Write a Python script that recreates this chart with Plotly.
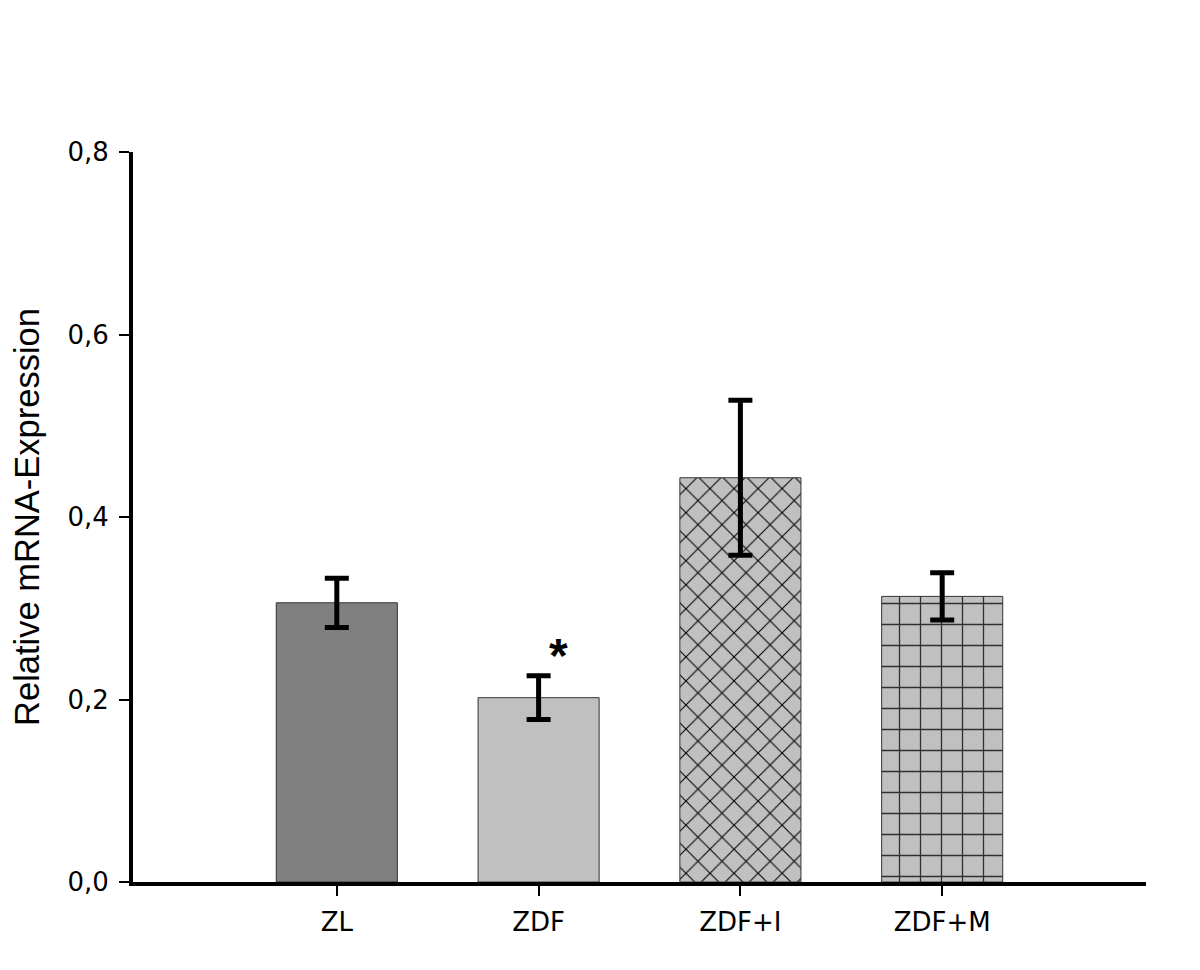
import plotly.graph_objects as go

categories = ["ZL", "ZDF", "ZDF+I", "ZDF+M"]
means = [0.306, 0.202, 0.443, 0.313]
errors = [0.027, 0.024, 0.085, 0.026]
fill_colors = ["#808080", "#c0c0c0", "#c0c0c0", "#c0c0c0"]
patterns = ["", "", "x", "+"]
pattern_sizes = [10, 10, 17, 21]
pattern_fg = ["#000000", "#000000", "#000000", "#303030"]
y_ticks = [0.0, 0.2, 0.4, 0.6, 0.8]

fig = go.Figure()
for i, cat in enumerate(categories):
    fig.add_trace(go.Bar(
        x=[i], y=[means[i]], width=0.6,
        marker=dict(
            color=fill_colors[i],
            line=dict(color="#333333", width=1),
            pattern=dict(shape=patterns[i], size=pattern_sizes[i], solidity=0.12,
                         fgcolor=pattern_fg[i], bgcolor=fill_colors[i], fillmode="replace"),
        ),
        error_y=dict(type="data", array=[errors[i]], visible=True,
                     color="black", thickness=5, width=12),
        showlegend=False,
    ))

fig.add_annotation(x=1, y=0.248, xref="x", yref="y", text="<b>*</b>", showarrow=False,
                   xshift=20, yanchor="middle",
                   font=dict(family="Arial", size=48, color="black"))

fig.update_layout(
    width=1200, height=970,
    plot_bgcolor="white", paper_bgcolor="white",
    margin=dict(l=125, r=62, t=144, b=96),
    separators=",.",
    xaxis=dict(
        range=[-1.01, 4.01], tickmode="array", tickvals=list(range(len(categories))),
        ticktext=categories, showgrid=False, zeroline=False, automargin=False,
        showline=True, linecolor="black", linewidth=4,
        ticks="outside", ticklen=10, tickwidth=1.5, tickcolor="black",
        ticklabelstandoff=4,
        tickfont=dict(family="DejaVu Sans", size=26, color="black"),
    ),
    yaxis=dict(
        range=[0, 0.8], tickvals=y_ticks, tickformat=".1f",
        showgrid=False, zeroline=False, automargin=False,
        showline=True, linecolor="black", linewidth=4,
        ticks="outside", ticklen=10, tickwidth=1.5, tickcolor="black",
        ticklabelstandoff=5,
        tickfont=dict(family="DejaVu Sans", size=26, color="black"),
        title=dict(text="Relative mRNA-Expression", font=dict(family="Arial", size=34.5, color="black"), standoff=32),
    ),
)

fig.write_html("out.html")
